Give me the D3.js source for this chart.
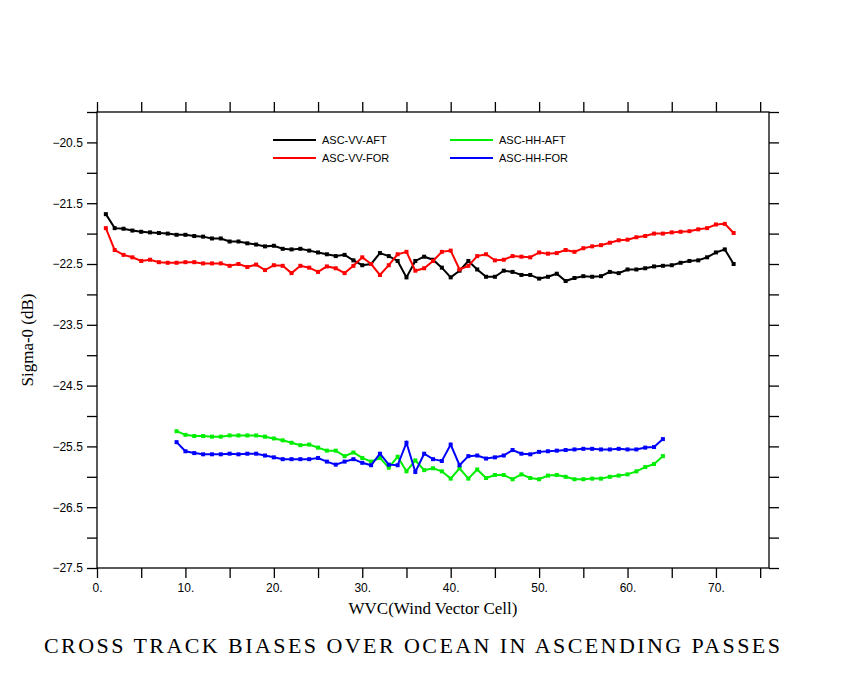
<!DOCTYPE html>
<html>
<head>
<meta charset="utf-8">
<script src="https://cdn.jsdelivr.net/npm/d3@7"></script>
<style>
  body { margin: 0; background: #fff; }
</style>
</head>
<body>
<div id="chart"></div>
<script>
// Series values (Sigma-0 in dB, per wind vector cell)
const vvCells = d3.range(1, 73);
const hhCells = d3.range(9, 65);

const vvAft = [-21.68,-21.91,-21.92,-21.95,-21.97,-21.98,-21.99,-22.00,-22.02,-22.02,
  -22.04,-22.05,-22.08,-22.08,-22.13,-22.13,-22.16,-22.18,-22.21,-22.20,
  -22.25,-22.26,-22.25,-22.28,-22.31,-22.34,-22.37,-22.35,-22.44,-22.52,
  -22.50,-22.32,-22.37,-22.45,-22.72,-22.45,-22.38,-22.43,-22.56,-22.72,
  -22.61,-22.45,-22.59,-22.71,-22.71,-22.61,-22.63,-22.68,-22.68,-22.74,
  -22.71,-22.66,-22.78,-22.73,-22.70,-22.71,-22.70,-22.63,-22.65,-22.59,
  -22.59,-22.57,-22.54,-22.53,-22.52,-22.48,-22.45,-22.44,-22.39,-22.31,
  -22.26,-22.50];

const vvFor = [-21.91,-22.27,-22.35,-22.39,-22.45,-22.43,-22.47,-22.48,-22.48,-22.47,
  -22.47,-22.49,-22.49,-22.49,-22.53,-22.50,-22.55,-22.51,-22.60,-22.52,
  -22.53,-22.65,-22.53,-22.56,-22.63,-22.54,-22.57,-22.65,-22.53,-22.39,
  -22.50,-22.68,-22.52,-22.34,-22.30,-22.61,-22.57,-22.45,-22.30,-22.28,
  -22.59,-22.53,-22.37,-22.34,-22.44,-22.43,-22.37,-22.38,-22.39,-22.31,
  -22.33,-22.32,-22.27,-22.30,-22.24,-22.21,-22.19,-22.15,-22.11,-22.10,
  -22.06,-22.04,-22.00,-22.00,-21.98,-21.97,-21.96,-21.93,-21.91,-21.85,
  -21.84,-21.99];

const hhAft = [-25.25,-25.31,-25.33,-25.33,-25.34,-25.34,-25.32,-25.32,-25.32,-25.32,
  -25.34,-25.37,-25.40,-25.44,-25.48,-25.47,-25.52,-25.57,-25.57,-25.66,
  -25.60,-25.69,-25.75,-25.69,-25.85,-25.67,-25.91,-25.73,-25.89,-25.86,
  -25.91,-26.03,-25.86,-26.03,-25.88,-26.02,-25.97,-25.97,-26.04,-25.96,
  -26.02,-26.04,-25.98,-25.97,-26.00,-26.04,-26.04,-26.03,-26.03,-26.00,
  -25.98,-25.96,-25.91,-25.84,-25.79,-25.66];

const hhFor = [-25.43,-25.58,-25.61,-25.63,-25.63,-25.63,-25.62,-25.63,-25.62,-25.62,
  -25.65,-25.68,-25.71,-25.71,-25.71,-25.71,-25.69,-25.75,-25.80,-25.75,
  -25.71,-25.77,-25.81,-25.62,-25.80,-25.81,-25.44,-25.92,-25.62,-25.71,
  -25.74,-25.47,-25.81,-25.66,-25.65,-25.70,-25.68,-25.65,-25.56,-25.62,
  -25.63,-25.59,-25.58,-25.57,-25.56,-25.55,-25.54,-25.54,-25.55,-25.55,
  -25.54,-25.55,-25.55,-25.52,-25.51,-25.38];

const seriesNames = ["ASC-VV-AFT", "ASC-VV-FOR", "ASC-HH-AFT", "ASC-HH-FOR"];
const seriesColors = ["#000000", "#ff0000", "#00ee00", "#0000ff"];

const xMajor = [0, 10, 20, 30, 40, 50, 60, 70];
const yMajor = [-27.5, -26.5, -25.5, -24.5, -23.5, -22.5, -21.5, -20.5];

// Layout
const W = 850, H = 680;
const margin = {top: 112, right: 81, bottom: 112, left: 97};
const width = W - margin.left - margin.right;
const height = H - margin.top - margin.bottom;

const svg = d3.select("#chart").append("svg")
  .attr("width", W).attr("height", H);

const g = svg.append("g")
  .attr("transform", `translate(${margin.left},${margin.top})`);

const x = d3.scaleLinear().domain([0, 76]).range([0, width]);
const y = d3.scaleLinear().domain([-27.5, -20]).range([height, 0]);

const fmtY = d => d3.format(".1f")(d).replace("-", "\u2212");
const fmtX = d => d + ".";

// Frame
g.append("rect")
  .attr("width", width).attr("height", height)
  .attr("fill", "none").attr("stroke", "#000").attr("stroke-width", 1.3);

const axisFont = "'Liberation Sans', Arial, sans-serif";

// Bottom axis
g.append("g")
  .attr("transform", `translate(0,${height})`)
  .call(d3.axisBottom(x).tickValues(d3.range(0, 76, 5)).tickSize(10)
    .tickFormat(d => d % 10 === 0 ? fmtX(d) : ""))
  .call(a => a.select(".domain").remove())
  .call(a => a.selectAll("text").attr("font-family", axisFont).attr("font-size", 12).attr("dy", "0.9em"));

// Top axis
g.append("g")
  .call(d3.axisTop(x).tickValues(d3.range(0, 76, 5)).tickSize(10).tickFormat(""))
  .call(a => a.select(".domain").remove());

// Left axis
g.append("g")
  .call(d3.axisLeft(y).tickValues(d3.range(-27.5, -19.9, 0.5)).tickSize(10)
    .tickFormat(d => yMajor.includes(d) ? fmtY(d) : ""))
  .call(a => a.select(".domain").remove())
  .call(a => a.selectAll("text").attr("font-family", axisFont).attr("font-size", 12).attr("dx", "-0.1em"));

// Right axis
g.append("g")
  .attr("transform", `translate(${width},0)`)
  .call(d3.axisRight(y).tickValues(d3.range(-27.5, -19.9, 0.5)).tickSize(10).tickFormat(""))
  .call(a => a.select(".domain").remove());

g.selectAll(".tick line").attr("stroke-width", 1.3);

// Series
const allSeries = [
  {cells: vvCells, vals: vvAft},
  {cells: vvCells, vals: vvFor},
  {cells: hhCells, vals: hhAft},
  {cells: hhCells, vals: hhFor}
];

const line = d3.line().x(d => x(d[0])).y(d => y(d[1]));

allSeries.forEach((s, i) => {
  const pts = s.cells.map((c, j) => [c, s.vals[j]]);
  g.append("path")
    .datum(pts)
    .attr("fill", "none")
    .attr("stroke", seriesColors[i])
    .attr("stroke-width", 2)
    .attr("d", line);
  g.selectAll(null)
    .data(pts)
    .enter().append("rect")
    .attr("x", d => x(d[0]) - 2)
    .attr("y", d => y(d[1]) - 2)
    .attr("width", 4).attr("height", 4)
    .attr("fill", seriesColors[i]);
});

// Legend
const legend = svg.append("g").attr("font-family", axisFont).attr("font-size", 11);
seriesNames.forEach((name, i) => {
  const lx = i < 2 ? 273 : 450;
  const ly = i % 2 === 0 ? 140 : 158;
  legend.append("line")
    .attr("x1", lx).attr("x2", lx + 43)
    .attr("y1", ly).attr("y2", ly)
    .attr("stroke", seriesColors[i]).attr("stroke-width", 2);
  legend.append("text")
    .attr("x", lx + 49).attr("y", ly + 4)
    .text(name);
});

// Axis titles and main title
const serif = "'Liberation Serif', 'DejaVu Serif', serif";
svg.append("text")
  .attr("transform", `translate(33,${margin.top + height / 2}) rotate(-90)`)
  .attr("text-anchor", "middle")
  .attr("font-family", serif).attr("font-size", 17)
  .text("Sigma-0 (dB)");

svg.append("text")
  .attr("x", margin.left + width / 2).attr("y", 614)
  .attr("text-anchor", "middle")
  .attr("font-family", serif).attr("font-size", 17)
  .text("WVC(Wind Vector Cell)");

svg.append("text")
  .attr("x", 412).attr("y", 653)
  .attr("text-anchor", "middle")
  .attr("font-family", serif).attr("font-size", 22)
  .attr("textLength", 736)
  .text("CROSS TRACK BIASES OVER OCEAN IN ASCENDING PASSES");
</script>
</body>
</html>
